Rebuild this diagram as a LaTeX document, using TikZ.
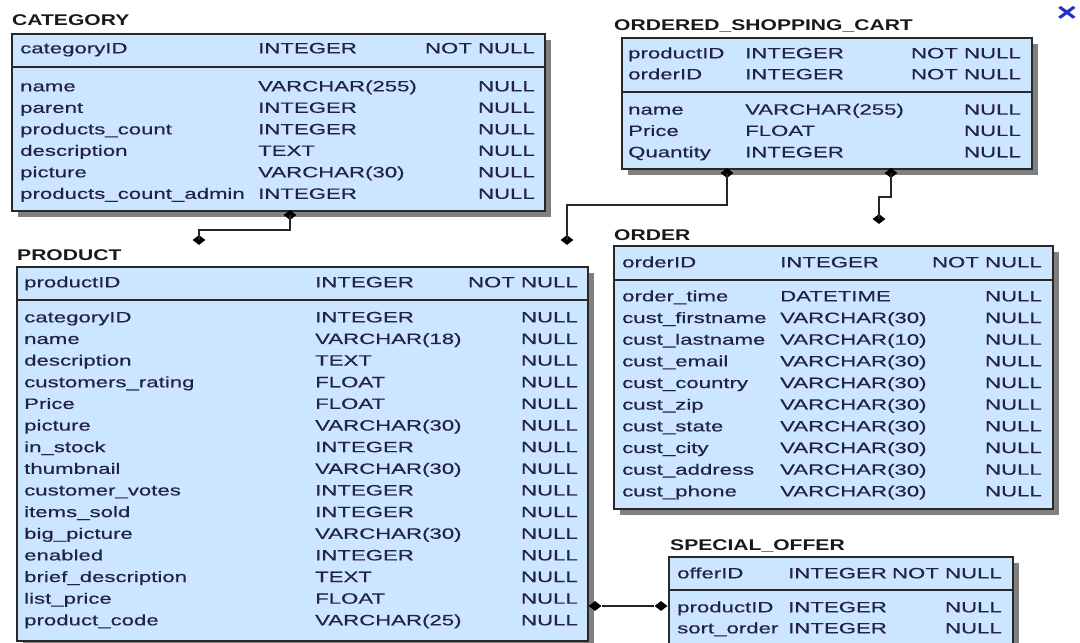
\documentclass[tikz,border=0pt]{standalone}
\usepackage{fontspec}
\setmainfont{Liberation Sans}[FakeStretch=1.48, FakeBold=0.4]
\newfontfamily\titlefont{Liberation Sans}[FakeStretch=1.36]
\usetikzlibrary{shapes.geometric,shadows}

\definecolor{tblfill}{RGB}{204,230,255}
\definecolor{tbltext}{RGB}{34,34,66}
\definecolor{tblline}{RGB}{40,40,40}
\definecolor{xblue}{RGB}{30,50,200}

\tikzset{
  erbox/.style={draw=tblline, line width=1.5pt, fill=tblfill, anchor=north west, inner sep=0pt,
    drop shadow={shadow xshift=6pt, shadow yshift=-6pt, fill=black!50, opacity=1}},
  sepline/.style={draw=tblline, line width=1.5pt},
  tabletitle/.style={anchor=west, inner sep=0pt, text height=10.7pt, text depth=0pt, text=black!90,
    font=\titlefont\bfseries\fontsize{15.5}{15.5}\selectfont},
  fld/.style={anchor=west, inner sep=0pt, text height=10.7pt, text depth=0pt, text=tbltext,
    font=\fontsize{15}{15}\selectfont},
  fldr/.style={fld, anchor=east},
  dia/.style={diamond, fill=black, inner sep=0pt, minimum width=13pt, minimum height=10pt},
  rel/.style={draw=black!85, line width=1.4pt}
}

\begin{document}
\begin{tikzpicture}[x=1pt,y=-1pt]
  \useasboundingbox (0,0) rectangle (1080,643);

  % CATEGORY
  \node[tabletitle] (catTitle) at (12,20) {CATEGORY};
  \node[erbox, minimum width=533pt, minimum height=177pt] (cat) at (11,33) {};
  \draw[sepline] (11,67) -- (544,67);
  \node[fld] (catKeyN) at (20,48) {categoryID};
  \node[fld] (catKeyT) at (258,48) {INTEGER};
  \node[fldr] (catKeyK) at (535,48) {NOT NULL};
  \foreach \n/\t [count=\i] in {name/VARCHAR(255), parent/INTEGER, products\_count/INTEGER,
      description/TEXT, picture/VARCHAR(30), products\_count\_admin/INTEGER}{
    \node[fld] (cat-n\i) at (20,64.5+21.5*\i) {\n};
    \node[fld] (cat-t\i) at (258,64.5+21.5*\i) {\t};
    \node[fldr] (cat-k\i) at (535,64.5+21.5*\i) {NULL};
  }

  % ORDERED_SHOPPING_CART
  \node[tabletitle] (oscTitle) at (614,25) {ORDERED\_SHOPPING\_CART};
  \node[erbox, minimum width=410pt, minimum height=131pt] (osc) at (621,37) {};
  \draw[sepline] (621,92) -- (1031,92);
  \foreach \n [count=\i] in {productID, orderID}{
    \node[fld] (osc-kn\i) at (628,32+21*\i) {\n};
    \node[fld] (osc-kt\i) at (745,32+21*\i) {INTEGER};
    \node[fldr] (osc-kk\i) at (1021,32+21*\i) {NOT NULL};
  }
  \foreach \n/\t [count=\i] in {name/VARCHAR(255), Price/FLOAT, Quantity/INTEGER}{
    \node[fld] (osc-n\i) at (628,88+21.3*\i) {\n};
    \node[fld] (osc-t\i) at (745,88+21.3*\i) {\t};
    \node[fldr] (osc-k\i) at (1021,88+21.3*\i) {NULL};
  }

  % PRODUCT
  \node[tabletitle] (prodTitle) at (17,255) {PRODUCT};
  \node[erbox, minimum width=571pt, minimum height=374pt] (prod) at (16,266) {};
  \draw[sepline] (16,300) -- (587,300);
  \node[fld] (prodKeyN) at (24,282) {productID};
  \node[fld] (prodKeyT) at (315,282) {INTEGER};
  \node[fldr] (prodKeyK) at (578,282) {NOT NULL};
  \foreach \n/\t [count=\i] in {categoryID/INTEGER, name/VARCHAR(18), description/TEXT,
      customers\_rating/FLOAT, Price/FLOAT, picture/VARCHAR(30), in\_stock/INTEGER,
      thumbnail/VARCHAR(30), customer\_votes/INTEGER, items\_sold/INTEGER,
      big\_picture/VARCHAR(30), enabled/INTEGER, brief\_description/TEXT,
      list\_price/FLOAT, product\_code/VARCHAR(25)}{
    \node[fld] (prod-n\i) at (24,295.36+21.64*\i) {\n};
    \node[fld] (prod-t\i) at (315,295.36+21.64*\i) {\t};
    \node[fldr] (prod-k\i) at (578,295.36+21.64*\i) {NULL};
  }

  % ORDER
  \node[tabletitle] (ordTitle) at (614,235) {ORDER};
  \node[erbox, minimum width=439pt, minimum height=263pt] (ord) at (613,245) {};
  \draw[sepline] (613,280) -- (1052,280);
  \node[fld] (ordKeyN) at (622,262) {orderID};
  \node[fld] (ordKeyT) at (780,262) {INTEGER};
  \node[fldr] (ordKeyK) at (1042,262) {NOT NULL};
  \foreach \n/\t [count=\i] in {order\_time/DATETIME, cust\_firstname/VARCHAR(30),
      cust\_lastname/VARCHAR(10), cust\_email/VARCHAR(30), cust\_country/VARCHAR(30),
      cust\_zip/VARCHAR(30), cust\_state/VARCHAR(30), cust\_city/VARCHAR(30),
      cust\_address/VARCHAR(30), cust\_phone/VARCHAR(30)}{
    \node[fld] (ord-n\i) at (622,274.33+21.67*\i) {\n};
    \node[fld] (ord-t\i) at (780,274.33+21.67*\i) {\t};
    \node[fldr] (ord-k\i) at (1042,274.33+21.67*\i) {NULL};
  }

  % SPECIAL_OFFER
  \node[tabletitle] (specTitle) at (670,545) {SPECIAL\_OFFER};
  \node[erbox, minimum width=344pt, minimum height=100pt] (spec) at (668,556) {};
  \draw[sepline] (668,590) -- (1012,590);
  \node[fld] (specKeyN) at (677,573) {offerID};
  \node[fld] (specKeyT) at (788,573) {INTEGER};
  \node[fldr] (specKeyK) at (1002,573) {NOT NULL};
  \foreach \n [count=\i] in {productID, sort\_order}{
    \node[fld] (spec-n\i) at (677,586+21*\i) {\n};
    \node[fld] (spec-t\i) at (788,586+21*\i) {INTEGER};
    \node[fldr] (spec-k\i) at (1002,586+21*\i) {NULL};
  }

  % Relations
  \node[dia] (catEnd) at (290,215) {};
  \node[dia] (prodEndA) at (199,240) {};
  \draw[rel] (catEnd.center) -- ++(0,15) -| (prodEndA.center);

  \node[dia] (oscEndA) at (727,173) {};
  \node[dia] (prodEndB) at (567,240) {};
  \draw[rel] (oscEndA.center) -- ++(0,32) -| (prodEndB.center);

  \node[dia] (oscEndB) at (891,173) {};
  \node[dia] (ordEnd) at (879,219) {};
  \draw[rel] (oscEndB.center) -- ++(0,24) -| (ordEnd.center);

  \node[dia] (prodEndC) at (595,606) {};
  \node[dia] (specEnd) at (661,606) {};
  \draw[rel] (prodEndC) -- (specEnd);

  % close mark
  \node[text=xblue, inner sep=0pt, font=\titlefont\bfseries\fontsize{26}{26}\selectfont] (closeMark) at (1067,14) {×};
\end{tikzpicture}
\end{document}
